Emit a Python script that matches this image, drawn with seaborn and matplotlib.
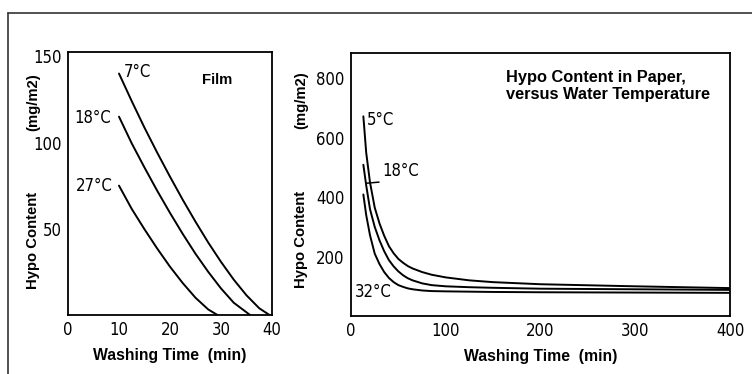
import numpy as np
import pandas as pd
import seaborn as sns
import matplotlib.pyplot as plt
from matplotlib.lines import Line2D

# film: washing time (min) vs hypo content (mg/m2)
film_t_7 = [10, 12.5, 15, 17.5, 20, 22.5, 25, 27.5, 30, 32.5, 35, 37.5, 39.5]
film_7 = [140, 124, 108.6, 94.1, 80.2, 66.8, 54.1, 42.0, 30.8, 20.5, 11.4, 3.9, 0]
film_t_18 = [10, 12.5, 15, 17.5, 20, 22.5, 25, 27.5, 30, 32.5, 35.7]
film_18 = [115, 99.5, 85.5, 72.0, 59.2, 47.0, 35.5, 25.0, 15.4, 7.1, 0]
film_t_27 = [10, 12.5, 15, 17.5, 20, 22.5, 25, 27.5, 29.3]
film_27 = [75, 61.5, 49.7, 38.5, 28.0, 18.5, 10.0, 3.2, 0]

# paper
paper_t = [13, 16, 20, 25, 30, 35, 40, 45, 50, 55, 60, 65, 75, 85, 100, 125, 150, 200, 300, 400]
paper_5 = [672, 550, 450, 365, 312, 270, 235, 211, 192, 179, 168, 160, 148, 139, 130, 120, 114, 107, 100, 94]
paper_18 = [509, 440, 360, 300, 255, 218, 188, 167, 150, 137, 127, 120, 110, 104, 100, 97, 95, 92, 90, 88]
paper_32 = [409, 340, 272, 210, 175, 148, 128, 114, 104, 98, 93, 90, 86, 84, 83, 82, 81, 80, 79, 78]

film_ticks = [0, 10, 20, 30, 40]
film_yticks = [50, 100, 150]
paper_ticks = [0, 100, 200, 300, 400]
paper_yticks = [200, 400, 600, 800]

sns.set_style('white')
plt.rcParams['font.family'] = ['DejaVu Sans']
plt.rcParams['text.color'] = 'black'
plt.rcParams['axes.labelcolor'] = 'black'
plt.rcParams['xtick.color'] = 'black'
plt.rcParams['ytick.color'] = 'black'

fig = plt.figure(figsize=(7.52, 3.74), dpi=100)
ax1 = fig.add_axes([0.0904, 0.1578, 0.2713, 0.7032])
ax2 = fig.add_axes([0.4668, 0.155, 0.504, 0.7032])

lw = 1.4
for t, v in [(film_t_7, film_7), (film_t_18, film_18), (film_t_27, film_27)]:
    sns.lineplot(x=t, y=v, ax=ax1, color='black', linewidth=lw)
for v in [paper_5, paper_18, paper_32]:
    sns.lineplot(x=paper_t, y=v, ax=ax2, color='black', linewidth=lw)

tick_font = dict(family='DejaVu Sans', stretch='condensed', size=12)
lab_font = dict(family='Liberation Sans', weight='bold', size=11.3, color='black')
ylab_font = dict(family='Liberation Sans', weight='bold', size=10.7, color='black')

ax1.set_xlim(0, 40)
ax1.set_ylim(0, 152.5)
ax1.set_xticks(film_ticks)
ax1.set_yticks(film_yticks)
ax2.set_xlim(0, 400)
ax2.set_ylim(0, 885)
ax2.set_xticks(paper_ticks)
ax2.set_yticks(paper_yticks)

for ax in (ax1, ax2):
    for s in ax.spines.values():
        s.set_color('black')
        s.set_linewidth(1.3)
    ax.tick_params(axis='both', direction='out', length=3, width=1, color='black', pad=1.5)
    for lab in ax.get_xticklabels() + ax.get_yticklabels():
        lab.set_fontfamily(tick_font['family'])
        lab.set_fontstretch(tick_font['stretch'])
        lab.set_fontsize(tick_font['size'])
        lab.set_color('black')
    ax.set_xlabel('Washing Time  (min)', labelpad=6, **lab_font)
    ax.set_ylabel('')

# y labels written as two pieces like the original
fig.text(33 / 752, 1 - 240 / 374, 'Hypo Content', rotation=90, ha='center', va='center', **ylab_font)
fig.text(33 / 752, 1 - 102 / 374, '(mg/m2)', rotation=90, ha='center', va='center', **ylab_font)
fig.text(301 / 752, 1 - 239 / 374, 'Hypo Content', rotation=90, ha='center', va='center', **ylab_font)
fig.text(301 / 752, 1 - 100 / 374, '(mg/m2)', rotation=90, ha='center', va='center', **ylab_font)

# curve labels
cl = dict(family='DejaVu Sans', stretch='condensed', size=12, color='black')
ax1.text(11, 141, '7°C', ha='left', va='center', fontdict=cl)
ax1.text(8.4, 114, '18°C', ha='right', va='center', fontdict=cl)
ax1.text(8.7, 75, '27°C', ha='right', va='center', fontdict=cl)
ax1.text(29.2, 136, 'Film', ha='center', va='center', **ylab_font)

ax2.text(17, 660, '5°C', ha='left', va='center', fontdict=cl)
ax2.text(4, 82, '32°C', ha='left', va='center', fontdict=cl)
ax2.annotate('18°C', xy=(16.5, 447), xytext=(33, 487), ha='left', va='center', fontsize=12,
             family='DejaVu Sans', fontstretch='condensed', color='black',
             arrowprops=dict(arrowstyle='-', color='black', lw=1.1,
                             connectionstyle='angle,angleA=90,angleB=5,rad=0', shrinkA=0, shrinkB=0))
ax2.text(164, 828, 'Hypo Content in Paper,\nversus Water Temperature', ha='left', va='top',
         linespacing=1.2, family='Liberation Sans', weight='bold', size=11.8, color='black')

# outer frame of the scanned figure
fig.add_artist(Line2D([8 / 752, 1], [1 - 13 / 374, 1 - 13 / 374], color='#333333', lw=1.2))
fig.add_artist(Line2D([8 / 752, 8 / 752], [0, 1 - 13 / 374], color='#333333', lw=1.2))

fig.savefig('out.png', dpi=100)
